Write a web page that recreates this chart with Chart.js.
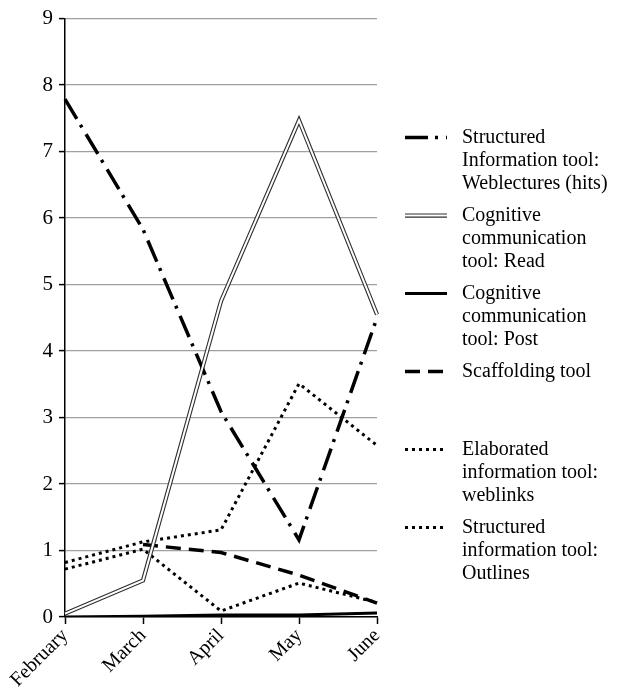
<!DOCTYPE html>
<html lang="en">
  <head>
    <meta charset="UTF-8">
    <title>Tool use per month</title>
    <script src="https://cdn.jsdelivr.net/npm/chart.js"></script>
    <style>
      html, body { margin: 0; padding: 0; background: #fff; }
      #wrap { width: 621px; height: 694px; position: relative; }
    </style>
  </head>
  <body>
    <div id="wrap">
      <canvas id="myChart"></canvas>
    </div>
    <script>
      // Months on the x axis
      const months = ["February", "March", "April", "May", "June"];

      // Series values
      const weblectures = [7.79, 5.83, 3.09, 1.16, 4.5];
      const cogRead = [0.05, 0.55, 4.75, 7.47, 4.55];
      const cogPost = [0.0, 0.01, 0.03, 0.03, 0.06];
      const scaffolding = [null, 1.09, 0.97, 0.63, 0.21];
      const weblinks = [0.82, 1.13, 1.31, 3.51, 2.58];
      const outlines = [0.72, 1.02, 0.09, 0.51, 0.22];

      // Legend texts, one entry per line
      const legendLabels = [
        ["Structured", "Information tool:", "Weblectures (hits)"],
        ["Cognitive", "communication", "tool: Read"],
        ["Cognitive", "communication", "tool: Post"],
        ["Scaffolding tool"],
        ["Elaborated", "information tool:", "weblinks"],
        ["Structured", "information tool:", "Outlines"]
      ];

      const FONT = "'Liberation Serif', 'DejaVu Serif', serif";

      // line styles shared by chart and legend
      const styles = [
        { color: "#000", width: 3.5, dash: [23, 7, 3, 8] },
        { color: "#2e2e2e", width: 4.2, dash: [], inner: { color: "#fff", width: 2 } },
        { color: "#000", width: 3, dash: [] },
        { color: "#000", width: 3.5, dash: [15, 8] },
        { color: "#000", width: 3, dash: [3, 4] },
        { color: "#000", width: 3, dash: [3, 4] }
      ];

      const seriesData = [weblectures, cogRead, cogPost, scaffolding, weblinks, outlines];

      const datasets = [];
      seriesData.forEach((d, i) => {
        const s = styles[i];
        datasets.push({
          label: legendLabels[i].join(" "),
          data: d,
          borderColor: s.color,
          borderWidth: s.width,
          borderDash: s.dash,
          borderCapStyle: "butt",
          pointRadius: 0,
          tension: 0,
          fill: false,
          order: 10 + i
        });
        if (s.inner) {
          // white core drawn on top to make the double line
          datasets.push({
            label: "",
            data: d,
            borderColor: s.inner.color,
            borderWidth: s.inner.width,
            pointRadius: 0,
            tension: 0,
            fill: false,
            order: 9 + i - 0.5
          });
        }
      });

      // custom legend: symbol aligned with first text line, equal slots
      const sideLegend = {
        id: "sideLegend",
        afterDraw(chart) {
          const ctx = chart.ctx;
          const area = chart.chartArea;
          const x0 = area.right + 28;
          const x1 = x0 + 42;
          const tx = x0 + 57;
          let y = area.top + 119;
          ctx.save();
          ctx.font = "20px " + FONT;
          ctx.fillStyle = "#000";
          ctx.textBaseline = "middle";
          legendLabels.forEach((lines, i) => {
            const s = styles[i];
            ctx.beginPath();
            ctx.setLineDash(s.dash);
            ctx.lineCap = "butt";
            ctx.strokeStyle = s.color;
            ctx.lineWidth = s.width;
            ctx.moveTo(x0, y);
            ctx.lineTo(x1, y);
            ctx.stroke();
            if (s.inner) {
              ctx.beginPath();
              ctx.strokeStyle = s.inner.color;
              ctx.lineWidth = s.inner.width;
              ctx.moveTo(x0 - 1, y);
              ctx.lineTo(x1 + 1, y);
              ctx.stroke();
            }
            ctx.setLineDash([]);
            lines.forEach((t, k) => ctx.fillText(t, tx, y + k * 23));
            y += 78;
          });
          ctx.restore();
        }
      };

      const ctx = document.getElementById("myChart").getContext("2d");
      const chart = new Chart(ctx, {
        type: "line",
        data: { labels: months, datasets: datasets },
        plugins: [sideLegend],
        options: {
          responsive: true,
          maintainAspectRatio: false,
          animation: false,
          events: [],
          layout: { padding: { top: 16, right: 244, left: 0, bottom: 0 } },
          plugins: {
            legend: { display: false },
            tooltip: { enabled: false }
          },
          scales: {
            x: {
              offset: false,
              afterFit: s => { s.height = 77; },
              grid: { drawOnChartArea: false, drawTicks: true, tickLength: 7, tickColor: "#000", tickWidth: 1.5 },
              border: { color: "#000", width: 1.5 },
              ticks: {
                color: "#000",
                font: { family: FONT, size: 20 },
                minRotation: 45,
                maxRotation: 45,
                padding: 0
              }
            },
            y: {
              min: 0,
              max: 9,
              afterFit: s => { s.width = 65; },
              grid: { color: "#a0a0a0", lineWidth: 1.2, tickLength: 6, tickColor: "#000", tickWidth: 1.5 },
              border: { color: "#000", width: 1.5 },
              ticks: {
                stepSize: 1,
                color: "#000",
                font: { family: FONT, size: 21 },
                padding: 6
              }
            }
          }
        }
      });
    </script>
  </body>
</html>
